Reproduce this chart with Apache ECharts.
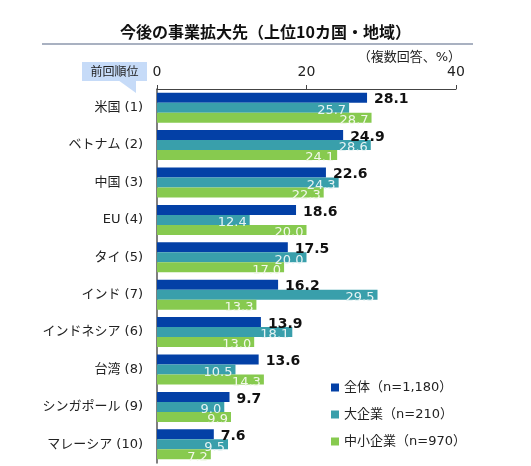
<!DOCTYPE html>
<html>
<head>
<meta charset="utf-8">
<script src="https://cdn.jsdelivr.net/npm/echarts@6/dist/echarts.min.js"></script>
<style>
html,body{margin:0;padding:0;background:#ffffff;}
#main{width:531px;height:466px;}
</style>
</head>
<body>
<div id="main"></div>
<script>
var categories = ['米国 (1)', 'ベトナム (2)', '中国 (3)', 'EU (4)', 'タイ (5)', 'インド (7)', 'インドネシア (6)', '台湾 (8)', 'シンガポール (9)', 'マレーシア (10)'];
var seriesNames = ['全体（n=1,180）', '大企業（n=210）', '中小企業（n=970）'];
var totalAll = [28.1, 24.9, 22.6, 18.6, 17.5, 16.2, 13.9, 13.6, 9.7, 7.6];
var largeCo = [25.7, 28.6, 24.3, 12.4, 20.0, 29.5, 18.1, 10.5, 9.0, 9.5];
var smeCo = [28.7, 24.1, 22.3, 20.0, 17.0, 13.3, 13.0, 14.3, 9.9, 7.2];
var axisTicks = [0, 20, 40];

var FONT = '"Noto Sans CJK JP", "Noto Sans", sans-serif';
var MIX = '"DejaVu Sans", "Noto Sans CJK JP", sans-serif';
var chart = echarts.init(document.getElementById('main'));
function fmt(p){ return p.value.toFixed(1); }
var option = {
  backgroundColor: '#ffffff',
  textStyle: { fontFamily: FONT },
  title: {
    text: '今後の事業拡大先（上位10カ国・地域）',
    left: 'center', top: 19,
    textStyle: { fontFamily: FONT, fontSize: 16, fontWeight: 'bold', color: '#111' }
  },
  graphic: [
    { type: 'line', shape: { x1: 42, y1: 44, x2: 473, y2: 44 }, style: { stroke: '#a9b1c1', lineWidth: 2 } },
    { type: 'rect', shape: { x: 82, y: 62, width: 65, height: 19 }, style: { fill: '#c6dbf8' } },
    { type: 'polygon', shape: { points: [[118, 80], [136, 80], [136, 93]] }, style: { fill: '#c6dbf8' } },
    { type: 'text', x: 114.5, y: 71.5, style: { text: '前回順位', fontFamily: FONT, fontSize: 12, fill: '#222', align: 'center', verticalAlign: 'middle' } },
    { type: 'text', x: 461, y: 58, style: { text: '（複数回答、%）', fontFamily: MIX, fontSize: 13, fill: '#222', align: 'right', verticalAlign: 'middle' } }
  ],
  legend: {
    orient: 'vertical', left: 326, top: 376, itemGap: 14,
    itemWidth: 8, itemHeight: 8, icon: 'rect',
    textStyle: { fontFamily: MIX, fontSize: 13, color: '#222' },
    data: seriesNames
  },
  grid: { left: 157, right: 75, top: 89, bottom: 3 },
  xAxis: {
    type: 'value', position: 'top', min: 0, max: 40, interval: 20,
    axisLine: { show: true, lineStyle: { color: '#444', width: 1 } },
    axisTick: { show: true, length: 4, lineStyle: { color: '#444' } },
    axisLabel: { fontSize: 14, color: '#222', margin: 10, fontFamily: MIX,
      formatter: function(v){ return axisTicks.indexOf(v) >= 0 ? String(v) : ''; } },
    splitLine: { show: false }
  },
  yAxis: {
    type: 'category', data: categories, inverse: true,
    axisLine: { show: true, lineStyle: { color: '#555', width: 1.5 } },
    axisTick: { show: false },
    axisLabel: { fontSize: 13, color: '#222', margin: 14, fontFamily: MIX }
  },
  series: [
    { name: seriesNames[0], type: 'bar', data: totalAll, barWidth: 10, barGap: '0%',
      itemStyle: { color: '#0340a6' },
      label: { show: true, position: 'right', distance: 7, offset: [0, 2], formatter: fmt,
        fontSize: 14, fontWeight: 'bold', color: '#111', fontFamily: MIX } },
    { name: seriesNames[1], type: 'bar', data: largeCo, barWidth: 10, barGap: '0%',
      itemStyle: { color: '#399fab' },
      label: { show: true, position: 'insideRight', distance: 3, offset: [0, 3], formatter: fmt,
        fontSize: 13, color: '#e6f3f4', fontFamily: MIX } },
    { name: seriesNames[2], type: 'bar', data: smeCo, barWidth: 10, barGap: '0%',
      itemStyle: { color: '#87ca4f' },
      label: { show: true, position: 'insideRight', distance: 3, offset: [0, 3], formatter: fmt,
        fontSize: 13, color: '#f2f8ea', fontFamily: MIX } }
  ]
};
chart.setOption(option);
</script>
</body>
</html>
